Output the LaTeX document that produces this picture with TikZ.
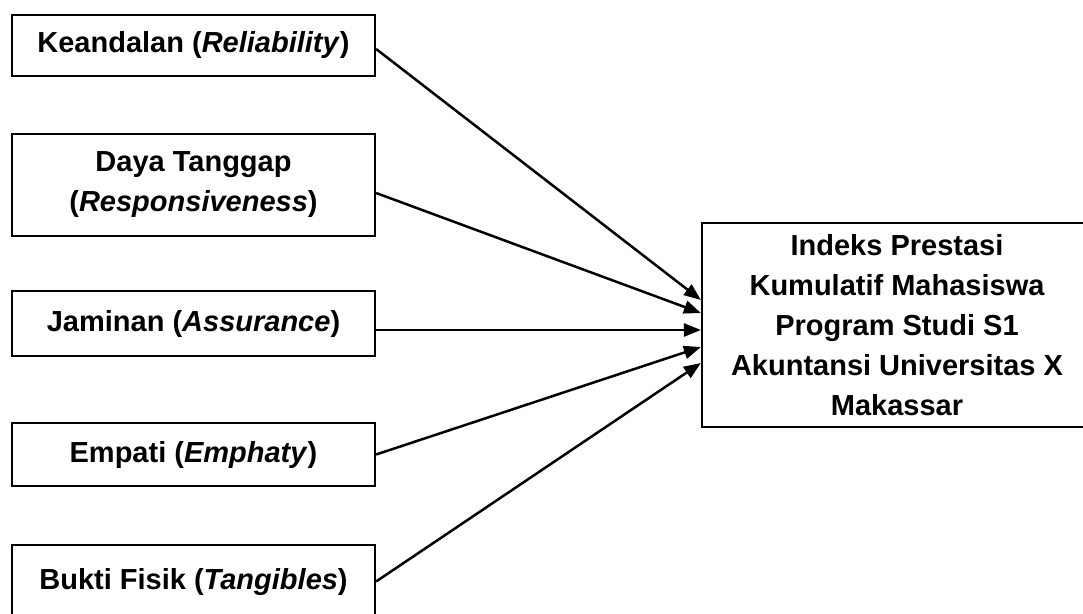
\documentclass[tikz,border=0pt]{standalone}
\usepackage{fontspec}
\setmainfont{Liberation Sans}
\usetikzlibrary{arrows.meta}
\begin{document}
\begin{tikzpicture}[x=1pt,y=-1pt,
  box/.style={draw, line width=2.2pt, fill=white, align=center, inner sep=0pt,
    font=\fontsize{29}{40}\selectfont\bfseries},
  conn/.style={line width=2.5pt, -{Triangle[length=17pt,width=13pt]}}]
\clip (0,0) rectangle (1083,613);
\fill[white] (0,0) rectangle (1083,613);
\node[box, minimum width=363pt, minimum height=61pt] (b1) at (193.5,45.5) {Keandalan (\textit{Reliability})};
\node[box, minimum width=363pt, minimum height=102pt] (b2) at (193.5,185) {Daya Tanggap\\(\textit{Responsiveness})};
\node[box, minimum width=363pt, minimum height=65pt] (b3) at (193.5,323.5) {Jaminan (\textit{Assurance})};
\node[box, minimum width=363pt, minimum height=63pt] (b4) at (193.5,454.5) {Empati (\textit{Emphaty})};
\node[box, minimum width=363pt, minimum height=73pt] (b5) at (193.5,581.5) {Bukti Fisik (\textit{Tangibles})};
\node[box, minimum width=390pt, minimum height=204pt] (t) at (897,325) {Indeks Prestasi\\Kumulatif Mahasiswa\\Program Studi S1\\Akuntansi Universitas X\\Makassar};
\draw[conn] ([yshift=-3.5pt]b1.east) -- ([yshift=25pt]t.west);
\draw[conn] ([yshift=-8pt]b2.east) -- ([yshift=12pt]t.west);
\draw[conn] ([yshift=-6.5pt]b3.east) -- ([yshift=-5pt]t.west);
\draw[conn] (b4.east) -- ([yshift=-22pt]t.west);
\draw[conn] (b5.east) -- ([yshift=-38pt]t.west);
\end{tikzpicture}
\end{document}
